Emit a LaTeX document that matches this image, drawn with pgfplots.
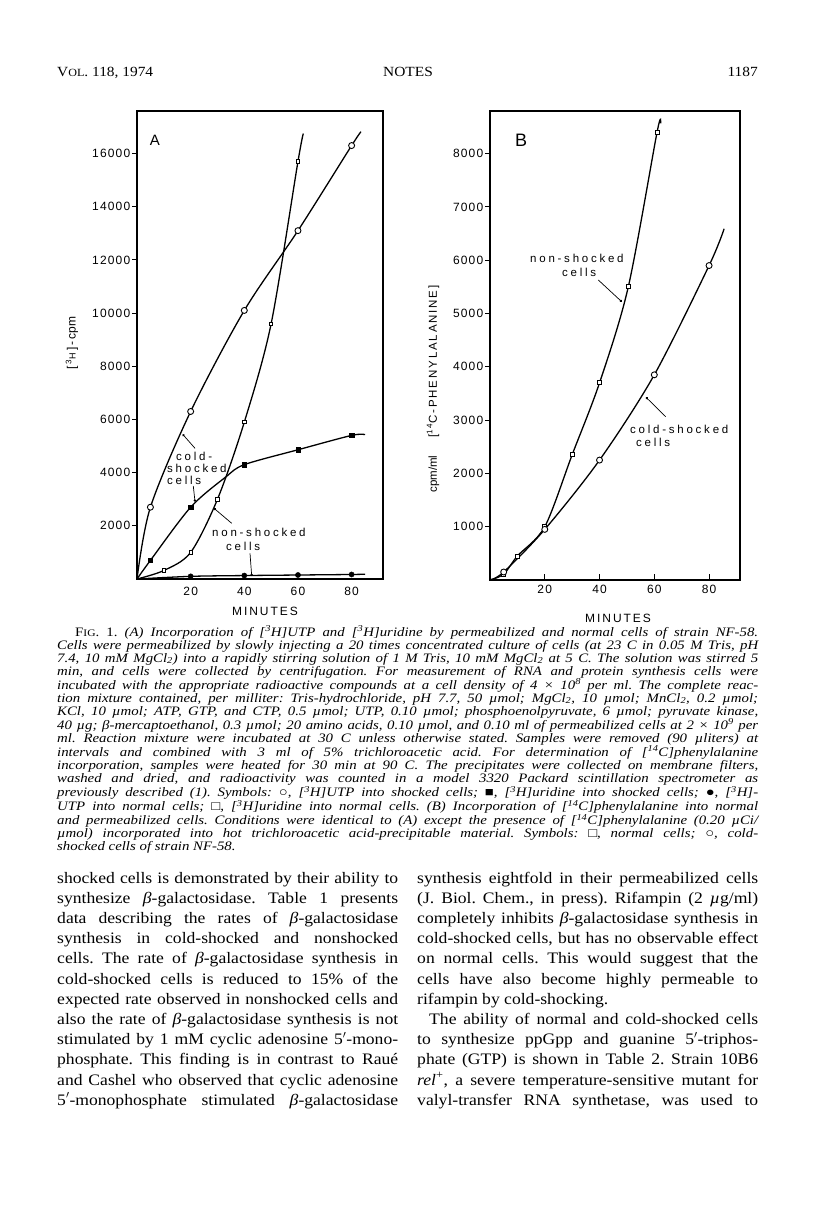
\documentclass[border=0pt]{standalone}
\usepackage{fontspec}
\setmainfont{Liberation Serif}[FakeStretch=1.1]
\newfontfamily\capfont{Liberation Serif}[FakeStretch=1.15]
\newfontfamily\tickfont{Liberation Sans}[LetterSpace=10]
\newfontfamily\annfont{Liberation Sans}[LetterSpace=24]
\newfontfamily\labfont{Liberation Sans}[LetterSpace=16]
\newfontfamily\plainsans{Liberation Sans}
\usepackage{pgfplots}
\pgfplotsset{compat=1.18}
\usetikzlibrary{arrows.meta}

\newcommand\cl[1]{\hbox to 701pt{#1}}
\newcommand\clast[1]{\hbox to 701pt{#1\hfil}}
\newcommand\bl[1]{\hbox to 341pt{#1}}
\newcommand\blast[1]{\hbox to 341pt{#1\hfil}}
\newcommand\sh[1]{\textsuperscript{#1}}

\pgfplotsset{
  panel/.style={
    scale only axis, anchor=south west, clip=false,
    axis line style={line width=1.1pt},
    every tick/.style={line width=1pt, black},
    tick align=outside, major tick length=5pt,
    tick label style={font=\tickfont\fontsize{12}{13}\selectfont},
    yticklabel style={inner sep=1.5pt},
    /pgf/number format/assume math mode=true,
    /pgf/number format/1000 sep={},
    scaled ticks=false,
    xtick pos=bottom, ytick pos=left,
  },
  curve/.style={smooth, line width=1.3pt, black, no markers},
  bigO/.style={only marks, mark=*, mark size=3pt, mark options={fill=white, draw=black, line width=0.9pt}},
  smallO/.style={only marks, mark=square*, mark size=1.7pt, mark options={fill=white, draw=black, line width=0.8pt}},
  fillS/.style={only marks, mark=square*, mark size=2.1pt, mark options={fill=black, draw=black}},
  fillC/.style={only marks, mark=*, mark size=2.6pt, mark options={fill=black, draw=black}},
}

\begin{document}
\frenchspacing
\begin{tikzpicture}
\path[use as bounding box] (0pt,0pt) rectangle (816pt,-1222pt);

% ---------------- Panel A ----------------
\begin{axis}[panel, at={(137pt,-579pt)}, width=246pt, height=468pt,
  xmin=0, xmax=91.7, ymin=0, ymax=17600,
  xtick={20,40,60,80}, ytick={2000,4000,...,16000},
  x tick style={draw=none}]
% [3H]UTP into shocked cells (open circles)
\addplot[curve] coordinates {(0,0) (5,2700) (20,6300) (40,10100) (60,13100) (80,16300) (83.5,16820)};
\addplot[bigO] coordinates {(5,2700) (20,6300) (40,10100) (60,13100) (80,16300)};
% [3H]uridine into shocked cells (filled squares)
\addplot[curve] coordinates {(0,0) (5,700) (20,2700) (33,3830) (40,4300) (60,4860) (80,5400) (85,5430)};
\addplot[fillS] coordinates {(5,700) (20,2700) (40,4300) (60,4860) (80,5400)};
% [3H]UTP into normal cells (filled circles)
\addplot[curve] coordinates {(0,0) (20,100) (40,130) (60,150) (80,170) (85,180)};
\addplot[fillC] coordinates {(20,100) (40,130) (60,150) (80,170)};
% [3H]uridine into normal cells (small open squares)
\addplot[curve] coordinates {(0,0) (10,320) (20,1000) (30,3000) (40,5900) (50,9600) (60,15700) (62,16750)};
\addplot[smallO] coordinates {(10,320) (20,1000) (30,3000) (40,5900) (50,9600) (60,15700)};
\end{axis}

% ---------------- Panel B ----------------
\begin{axis}[panel, at={(490pt,-580pt)}, width=250pt, height=469pt,
  xmin=0, xmax=91.3, ymin=0, ymax=8800,
  xtick={20,40,60,80}, ytick={1000,2000,...,8000},
  x tick style={yshift=6pt}, xticklabel style={yshift=3pt}]
% normal cells (open squares)
\addplot[curve] coordinates {(0,0) (5,110) (10,450) (20,1000) (30,2350) (40,3700) (50.5,5500) (61,8400) (62.3,8570)};
\addplot[only marks, mark=square*, mark size=2pt, mark options={fill=white, draw=black, line width=0.8pt}]
  coordinates {(5,110) (10,450) (20,1000) (30,2350) (40,3700) (50.5,5500) (61,8400)};
% cold-shocked cells (open circles)
\addplot[curve] coordinates {(0,0) (5,150) (20,950) (40,2250) (60,3850) (80,5900) (85.5,6590)};
\addplot[bigO] coordinates {(5,150) (20,950) (40,2250) (60,3850) (80,5900)};
\end{axis}

% ---------------- chart texts ----------------
\node[font=\plainsans\fontsize{15}{15}\selectfont] at (155pt,-140pt) {A};
\node[font=\plainsans\fontsize{18}{18}\selectfont] at (521pt,-140pt) {B};

\node[font=\labfont\fontsize{12}{13}\selectfont] at (265pt,-611pt) {MINUTES};
\node[font=\labfont\fontsize{12}{13}\selectfont] at (618pt,-618pt) {MINUTES};

\node[rotate=90, font=\plainsans\fontsize{12}{13}\selectfont] at (72pt,-343pt)
  {[\,\textsuperscript{3}{\fontsize{9}{9}\selectfont H}\,]\,-\,cpm};
\node[rotate=90, font=\plainsans\fontsize{11.5}{12}\selectfont] at (433pt,-389pt)
  {cpm/ml\hspace{18pt}{\labfont[\textsuperscript{14}C-PHENYLALANINE]}};

\begin{scope}[every node/.style={anchor=west, inner sep=0, font=\annfont\fontsize{11.5}{12}\selectfont}]
\node at (176pt,-456pt) {cold-};
\node at (167pt,-468pt) {shocked};
\node at (167pt,-480pt) {cells};
\node at (212pt,-532.7pt) {non-shocked};
\node at (226pt,-546.7pt) {cells};
\node at (530pt,-258.3pt) {non-shocked};
\node at (562pt,-272.7pt) {cells};
\node at (630pt,-429pt) {cold-shocked};
\node at (636pt,-442.3pt) {cells};
\end{scope}
\begin{scope}[line width=0.7pt, -{Circle[length=2.4pt]}]
\draw (195pt,-448.3pt) -- (182.7pt,-434.3pt);
\draw (193.3pt,-486pt) -- (195pt,-501.7pt);
\draw (231.7pt,-523.3pt) -- (214pt,-508.3pt);
\draw (250pt,-553.3pt) -- (251.7pt,-576pt);
\draw (598.3pt,-280pt) -- (621.7pt,-301.7pt);
\draw (665.7pt,-416.7pt) -- (646pt,-397.3pt);
\end{scope}

% ---------------- header ----------------
\node[anchor=base west, inner sep=0, font=\fontsize{14}{16}\selectfont] at (57pt,-77pt) {V{\fontsize{11}{12}\selectfont OL}. 118, 1974};
\node[anchor=base, inner sep=0, font=\fontsize{14}{16}\selectfont] at (408pt,-77pt) {NOTES};
\node[anchor=base east, inner sep=0, font=\fontsize{14}{16}\selectfont] at (758pt,-77pt) {1187};

% ---------------- caption ----------------
\node[anchor=base west, inner sep=0] at (57pt,-636pt) {\capfont\fontsize{12.9}{13}\selectfont\itshape\vtop{%
\cl{\hspace*{18pt}{\upshape F{\fontsize{10}{13}\selectfont IG}. 1.} (A) Incorporation of [\sh{3}H]UTP and [\sh{3}H]uridine by permeabilized and normal cells of strain NF-58.}
\cl{Cells were permeabilized by slowly injecting a 20 times concentrated culture of cells (at 23 C in 0.05 M Tris, pH}
\cl{7.4, 10 mM MgCl\textsubscript{2}) into a rapidly stirring solution of 1 M Tris, 10 mM MgCl\textsubscript{2} at 5 C. The solution was stirred 5}
\cl{min, and cells were collected by centrifugation. For measurement of RNA and protein synthesis cells were}
\cl{incubated with the appropriate radioactive compounds at a cell density of 4 × 10\sh{8} per ml. The complete reac-}
\cl{tion mixture contained, per milliter: Tris-hydrochloride, pH 7.7, 50 µmol; MgCl\textsubscript{2}, 10 µmol; MnCl\textsubscript{2}, 0.2 µmol;}
\cl{KCl, 10 µmol; ATP, GTP, and CTP, 0.5 µmol; UTP, 0.10 µmol; phosphoenolpyruvate, 6 µmol; pyruvate kinase,}
\cl{40 µg; β-mercaptoethanol, 0.3 µmol; 20 amino acids, 0.10 µmol, and 0.10 ml of permeabilized cells at 2 × 10\sh{9} per}
\cl{ml. Reaction mixture were incubated at 30 C unless otherwise stated. Samples were removed (90 µliters) at}
\cl{intervals and combined with 3 ml of 5\% trichloroacetic acid. For determination of [\sh{14}C]phenylalanine}
\cl{incorporation, samples were heated for 30 min at 90 C. The precipitates were collected on membrane filters,}
\cl{washed and dried, and radioactivity was counted in a model 3320 Packard scintillation spectrometer as}
\cl{previously described (1). Symbols: {\upshape ○}, [\sh{3}H]UTP into shocked cells; {\upshape ■}, [\sh{3}H]uridine into shocked cells; {\upshape ●}, [\sh{3}H]-}
\cl{UTP into normal cells; {\upshape □}, [\sh{3}H]uridine into normal cells. (B) Incorporation of [\sh{14}C]phenylalanine into normal}
\cl{and permeabilized cells. Conditions were identical to (A) except the presence of [\sh{14}C]phenylalanine (0.20 µCi/}
\cl{µmol) incorporated into hot trichloroacetic acid-precipitable material. Symbols: {\upshape □}, normal cells; {\upshape ○}, cold-}
\clast{shocked cells of strain NF-58.}
}};

% ---------------- body, left column ----------------
\node[anchor=base west, inner sep=0] at (57pt,-883pt) {\fontsize{16}{20.2}\selectfont\vtop{%
\bl{shocked cells is demonstrated by their ability to}
\bl{synthesize \textit{β}-galactosidase. Table 1 presents}
\bl{data describing the rates of \textit{β}-galactosidase}
\bl{synthesis in cold-shocked and nonshocked}
\bl{cells. The rate of \textit{β}-galactosidase synthesis in}
\bl{cold-shocked cells is reduced to 15\% of the}
\bl{expected rate observed in nonshocked cells and}
\bl{also the rate of \textit{β}-galactosidase synthesis is not}
\bl{stimulated by 1 mM cyclic adenosine 5$'$-mono-}
\bl{phosphate. This finding is in contrast to Raué}
\bl{and Cashel who observed that cyclic adenosine}
\bl{5$'$-monophosphate stimulated \textit{β}-galactosidase}
}};

% ---------------- body, right column ----------------
\node[anchor=base west, inner sep=0] at (417pt,-883pt) {\fontsize{16}{20.2}\selectfont\vtop{%
\bl{synthesis eightfold in their permeabilized cells}
\bl{(J. Biol. Chem., in press). Rifampin (2 \textit{µ}g/ml)}
\bl{completely inhibits \textit{β}-galactosidase synthesis in}
\bl{cold-shocked cells, but has no observable effect}
\bl{on normal cells. This would suggest that the}
\bl{cells have also become highly permeable to}
\blast{rifampin by cold-shocking.}
\bl{\hspace*{12pt}The ability of normal and cold-shocked cells}
\bl{to synthesize ppGpp and guanine 5$'$-triphos-}
\bl{phate (GTP) is shown in Table 2. Strain 10B6}
\bl{\textit{rel}\sh{+}, a severe temperature-sensitive mutant for}
\bl{valyl-transfer RNA synthetase, was used to}
}};
\end{tikzpicture}
\end{document}
